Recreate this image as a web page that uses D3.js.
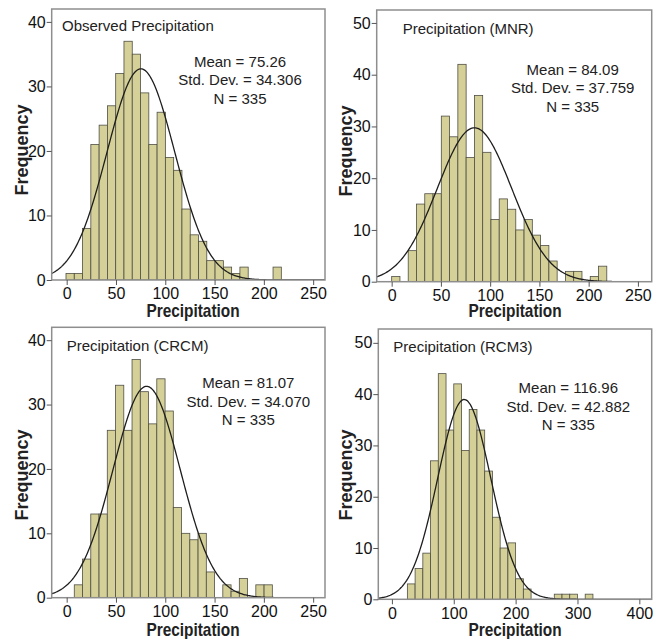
<!DOCTYPE html>
<html>
<head>
<meta charset="utf-8">
<script src="https://cdn.jsdelivr.net/npm/d3@7"></script>
<style>
  body { margin: 0; background: #fff; }
  svg { display: block; font-family: "Liberation Sans", Arial, sans-serif; }
</style>
</head>
<body>
<div class="chart"></div>
<script>
// counts per bin
const obsCounts  = [1, 1, 8, 21, 24, 27, 32, 37, 35, 29, 21, 26, 19, 17, 11, 7, 6, 3, 3, 2, 1, 2, 0, 0, 0, 2]
const mnrCounts  = [1, 0, 6, 15, 17, 17, 32, 28, 42, 24, 36, 25, 12, 16, 14, 10, 12, 9, 7, 4, 0, 2, 2, 0, 1, 3]
const crcmCounts = [2, 6, 13, 13, 26, 33, 26, 37, 32, 27, 34, 29, 14, 10, 9, 10, 4, 0, 2, 1, 3, 0, 2, 2]
const rcm3Counts = [3, 6, 9, 27, 44, 33, 42, 29, 37, 33, 25, 16, 10, 11, 4, 2, 0, 0, 0, 1, 1, 1, 0, 1]

// first bin edge and bin width of each histogram
const binStart = [-0.7, 0, 7.7, 25]
const binWidth = [8.4, 8.4, 8.37, 12.5]

const titles = ['Observed Precipitation', 'Precipitation (MNR)', 'Precipitation (CRCM)', 'Precipitation (RCM3)']
const means = [75.26, 84.09, 81.07, 116.96]
const meanLabels = ['75.26', '84.09', '81.07', '116.96']
const sds = [34.306, 37.759, 34.070, 42.882]
const sdLabels = ['34.306', '37.759', '34.070', '42.882']
const nObs = [335, 335, 335, 335]

const xTicks250 = [0, 50, 100, 150, 200, 250]
const xTicks400 = [0, 100, 200, 300, 400]
const yTicks40 = [0, 10, 20, 30, 40]
const yTicks50 = [0, 10, 20, 30, 40, 50]

const width = 661
const height = 639

// layout of each panel (frame box and text anchors)
const panels = [
  { counts: obsCounts,  xDomain: [-15.2, 262], yMax: 42,   xTicks: xTicks250, yTicks: yTicks40,
    box: [51.7, 9, 325, 280],     titleX: 62,    titleY: 30.5, statsX: 240,   statsY: 67,    yLabX: 28,    yLabY: 150, xLabX: 193, xLabY: 316.5 },
  { counts: mnrCounts,  xDomain: [-15.2, 264], yMax: 52.5, xTicks: xTicks250, yTicks: yTicks50,
    box: [376.7, 10, 651.7, 281.7], titleX: 402.7, titleY: 34,  statsX: 572.7, statsY: 75,    yLabX: 351.5, yLabY: 151, xLabX: 515, xLabY: 316.5 },
  { counts: crcmCounts, xDomain: [-15.2, 262], yMax: 42,   xTicks: xTicks250, yTicks: yTicks40,
    box: [51.7, 327.3, 325, 597.7], titleX: 66.7, titleY: 351,  statsX: 248.3, statsY: 388.3, yLabX: 28,    yLabY: 475, xLabX: 193, xLabY: 635.5 },
  { counts: rcm3Counts, xDomain: [-22, 420],   yMax: 52.7, xTicks: xTicks400, yTicks: yTicks50,
    box: [378.3, 329, 651.7, 599.3], titleX: 393.3, titleY: 351.7, statsX: 568.3, statsY: 393.3, yLabX: 351.7, yLabY: 475, xLabX: 515, xLabY: 635.5 }
]

const svg = d3.select('.chart')
  .append('svg')
  .attr('width', width)
  .attr('height', height)

panels.forEach((p, i) => {
  const [x0, y0, x1, y1] = p.box
  const xScale = d3.scaleLinear().domain(p.xDomain).range([x0, x1])
  const yScale = d3.scaleLinear().domain([0, p.yMax]).range([y1, y0])

  const g = svg.append('g')

  g.append('clipPath').attr('id', 'clip' + i)
    .append('rect').attr('x', x0).attr('y', y0).attr('width', x1 - x0).attr('height', y1 - y0)

  const bins = p.counts.map((c, k) => ({
    lo: binStart[i] + k * binWidth[i],
    hi: binStart[i] + (k + 1) * binWidth[i],
    c: c
  })).filter(b => b.c > 0)

  g.append('g').attr('clip-path', 'url(#clip' + i + ')')
    .selectAll('rect')
    .data(bins)
    .enter()
    .append('rect')
    .attr('x', d => xScale(d.lo))
    .attr('y', d => yScale(d.c))
    .attr('width', d => xScale(d.hi) - xScale(d.lo))
    .attr('height', d => yScale(0) - yScale(d.c))
    .attr('fill', '#d5d097')
    .attr('stroke', '#4f4f45')
    .attr('stroke-width', 0.8)

  // fitted normal curve
  const scaleN = nObs[i] * binWidth[i] / (sds[i] * Math.sqrt(2 * Math.PI))
  const pts = d3.range(0, 301).map(k => {
    const v = p.xDomain[0] + (p.xDomain[1] - p.xDomain[0]) * k / 300
    const z = (v - means[i]) / sds[i]
    return [v, scaleN * Math.exp(-0.5 * z * z)]
  })
  g.append('path')
    .attr('clip-path', 'url(#clip' + i + ')')
    .attr('d', d3.line().x(d => xScale(d[0])).y(d => yScale(d[1]))(pts))
    .attr('fill', 'none')
    .attr('stroke', '#1e1e1e')
    .attr('stroke-width', 1.3)

  g.append('rect')
    .attr('x', x0).attr('y', y0)
    .attr('width', x1 - x0).attr('height', y1 - y0)
    .attr('fill', 'none')
    .attr('stroke', '#8e8e8e')
    .attr('stroke-width', 1.5)

  const yAxis = g.append('g')
    .attr('transform', `translate(${x0},0)`)
    .call(d3.axisLeft(yScale).tickValues(p.yTicks).tickSize(5).tickSizeOuter(0).tickPadding(1))
  const xAxis = g.append('g')
    .attr('transform', `translate(0,${y1})`)
    .call(d3.axisBottom(xScale).tickValues(p.xTicks).tickSize(5).tickSizeOuter(0).tickPadding(3))
  ;[yAxis, xAxis].forEach(a => {
    a.select('.domain').remove()
    a.selectAll('line').attr('stroke', '#555')
    a.selectAll('text').attr('font-size', 16).attr('fill', '#111')
      .attr('font-family', '"Liberation Sans", Arial, sans-serif')
  })

  g.append('text')
    .attr('x', p.titleX).attr('y', p.titleY)
    .attr('font-size', 15).attr('fill', '#222')
    .text(titles[i])

  const stats = ['Mean = ' + meanLabels[i], 'Std. Dev. = ' + sdLabels[i], 'N = ' + nObs[i]]
  g.selectAll('.stat')
    .data(stats)
    .enter()
    .append('text')
    .attr('class', 'stat')
    .attr('x', p.statsX)
    .attr('y', (d, k) => p.statsY + k * 18.3)
    .attr('text-anchor', 'middle')
    .attr('font-size', 15).attr('fill', '#222')
    .text(d => d)

  g.append('text')
    .attr('transform', `translate(${p.yLabX},${p.yLabY}) rotate(-90)`)
    .attr('text-anchor', 'middle')
    .attr('font-size', 18).attr('font-weight', 'bold').attr('fill', '#222')
    .text('Frequency')

  // x title is a bit condensed in the original
  g.append('text')
    .attr('transform', `translate(${p.xLabX},${p.xLabY}) scale(0.88,1)`)
    .attr('text-anchor', 'middle')
    .attr('font-size', 17.5).attr('font-weight', 'bold').attr('fill', '#222')
    .text('Precipitation')
})
</script>
</body>
</html>
